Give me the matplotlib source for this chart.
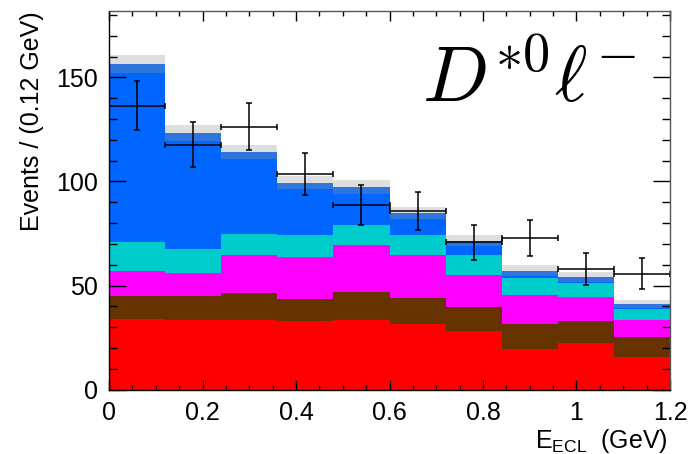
import numpy as np
import matplotlib

matplotlib.use("Agg")

import matplotlib.pyplot as plt  # noqa: E402
from matplotlib.ticker import MultipleLocator  # noqa: E402

plt.rcParams["font.family"] = ["Liberation Sans", "DejaVu Sans"]
plt.rcParams["mathtext.fontset"] = "custom"
plt.rcParams["mathtext.rm"] = "Liberation Sans"
plt.rcParams["mathtext.it"] = "Liberation Sans:italic"

# ---------------------------------------------------------------------------
# Data
# ---------------------------------------------------------------------------
bin_edges = [0.0, 0.12, 0.24, 0.36, 0.48, 0.60, 0.72, 0.84, 0.96, 1.08, 1.20]

# stacked components, bottom -> top
comp_red = [34.0, 33.2, 33.5, 33.0, 33.5, 31.3, 28.3, 19.5, 22.6, 15.8]
comp_brown = [11.0, 11.6, 12.8, 10.3, 13.6, 12.8, 11.3, 12.1, 10.3, 9.5]
comp_magenta = [11.8, 11.2, 18.5, 20.5, 22.3, 20.6, 15.3, 13.7, 11.4, 7.9]
comp_cyan = [14.3, 11.6, 10.1, 10.5, 9.6, 9.6, 9.8, 8.1, 6.8, 5.7]
comp_blue = [81.1, 52.1, 35.7, 22.1, 14.8, 7.8, 4.5, 1.3, 0.5, 0.2]
comp_lblue = [4.2, 3.4, 3.5, 2.9, 3.4, 2.9, 2.4, 2.5, 2.4, 1.8]
comp_gray = [4.3, 4.1, 3.5, 3.3, 3.3, 2.8, 2.8, 2.6, 2.5, 1.9]

data_counts = [136.5, 117.7, 126.4, 103.6, 88.7, 85.7, 70.8, 72.9, 58.0, 55.7]

components = [comp_red, comp_brown, comp_magenta, comp_cyan, comp_blue, comp_lblue, comp_gray]
comp_colors = ["#ff0000", "#663300", "#ff00ff", "#00cccc", "#0066ff", "#2f76dc", "#dedede"]

# ---------------------------------------------------------------------------
# Figure
# ---------------------------------------------------------------------------
fig = plt.figure(figsize=(6.9, 4.54), dpi=100)
ax = fig.add_axes([0.158, 0.142, 0.813, 0.834])

edges = np.array(bin_edges)
widths = np.diff(edges)
centers = edges[:-1] + widths / 2

bottom = np.zeros(len(widths))
for vals, col in zip(components, comp_colors):
    vals = np.array(vals)
    ax.bar(edges[:-1], vals, width=widths, bottom=bottom, align="edge",
           color=col, edgecolor="none", linewidth=0)
    bottom += vals

data = np.array(data_counts)
ax.errorbar(centers, data, yerr=np.sqrt(data), xerr=widths / 2, fmt="none",
            ecolor="black", elinewidth=1.1, capsize=2, capthick=1.1)

ax.set_xlim(0, 1.2)
ax.set_ylim(0, 182)

ax.xaxis.set_major_locator(MultipleLocator(0.2))
ax.xaxis.set_minor_locator(MultipleLocator(0.05))
ax.yaxis.set_major_locator(MultipleLocator(50))
ax.yaxis.set_minor_locator(MultipleLocator(10))
ax.set_xticks([0, 0.2, 0.4, 0.6, 0.8, 1.0, 1.2])
ax.set_xticklabels(["0", "0.2", "0.4", "0.6", "0.8", "1", "1.2"])

ax.tick_params(which="both", direction="in", top=True, right=True, labelsize=18)
ax.tick_params(axis="x", which="major", length=7.5, width=1.0, pad=8)
ax.tick_params(axis="x", which="minor", length=3.8, width=1.0)
ax.tick_params(axis="y", which="major", length=12, width=1.0, pad=8)
ax.tick_params(axis="y", which="minor", length=6, width=1.0)
for side, spine in ax.spines.items():
    spine.set_linewidth(1.0)
    spine.set_color("black" if side in ("left", "bottom") else "#555555")

ax.set_ylabel("Events / (0.12 GeV)", loc="top", fontsize=18, labelpad=9)
# x label sits right-aligned under the axis, ROOT style
fig.text(668 / 690, 1 - 448 / 454, r"E$_{\mathrm{ECL}}$  (GeV)",
         ha="right", va="baseline", fontsize=18)

ax.text(0.941, 0.76, r"$D^{*0}\ell^{-}$", transform=ax.transAxes,
        ha="right", va="baseline", fontsize=56, math_fontfamily="cm")

fig.savefig("out.png", dpi=100)
plt.close(fig)
